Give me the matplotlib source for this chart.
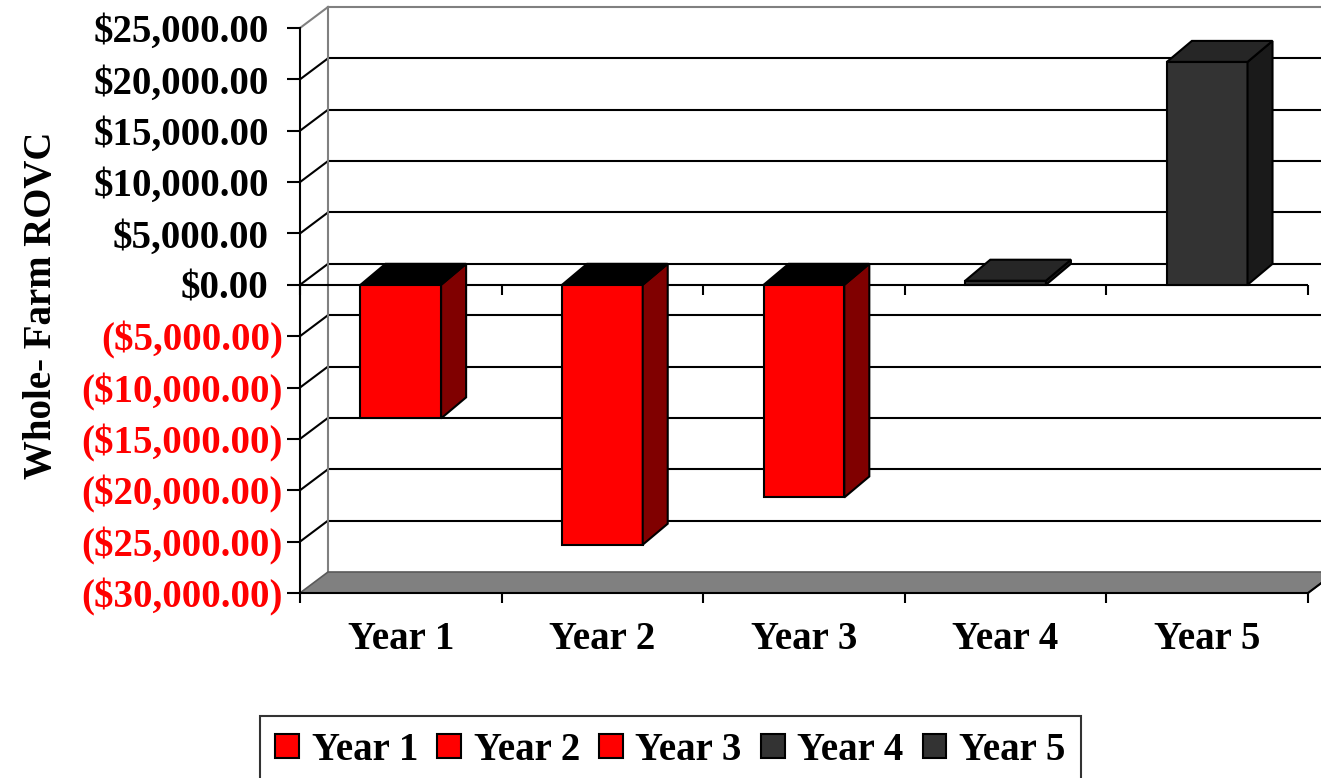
import numpy as np
import matplotlib
matplotlib.use("Agg")
import matplotlib.pyplot as plt
from matplotlib.patches import Polygon, Rectangle, Patch
from matplotlib.markers import TICKDOWN
from matplotlib.transforms import offset_copy

# ── Data ──────────────────────────────────────────────────────────────────────
years = ["Year 1", "Year 2", "Year 3", "Year 4", "Year 5"]
rovc = [-13000, -25300, -20700, 400, 21700]
front_colors = ["#ff0000", "#ff0000", "#ff0000", "#333333", "#333333"]
side_colors = ["#800000", "#800000", "#800000", "#1a1a1a", "#1a1a1a"]
top_colors = ["#000000", "#000000", "#000000", "#262626", "#262626"]
y_ticks = np.arange(-30000, 25001, 5000)

YMIN, YMAX = -30000, 25000
FONT = "Liberation Serif"

fig = plt.figure(figsize=(13.21, 7.78), dpi=100)
ax = fig.add_axes([300 / 1321, 185 / 778, 1008 / 1321, 565 / 778])
ax.set_xlim(0, len(years))
ax.set_ylim(YMIN, YMAX)
ax.patch.set_alpha(0)

# depth of the 3-D box (oblique offset) in data units
DX = 28 / 201.6
DY = 21 / 565 * (YMAX - YMIN)
BDX = 25 / 201.6
BAR_W = 0.4
N = len(years)

# back wall gridlines + side-wall diagonals
for t in y_ticks:
    col = "#808080" if t == YMAX else "black"
    if t != YMIN:
        ax.plot([DX, N + DX], [t + DY, t + DY], color=col, lw=1.5,
                clip_on=False, zorder=1)
        ax.plot([0, DX], [t, t + DY], color=col, lw=1.5, clip_on=False, zorder=1)
ax.plot([DX, DX], [YMIN + DY, YMAX + DY], color="#808080", lw=1.5,
        clip_on=False, zorder=1.5)

# floor
floor = Polygon([(0, YMIN), (N, YMIN), (N + DX, YMIN + DY), (DX, YMIN + DY)],
                closed=True, facecolor="#808080", edgecolor="#5a5a5a", lw=1.2,
                clip_on=False, zorder=2)
ax.add_patch(floor)
ax.plot([N, N + DX], [YMIN, YMIN + DY], color="black", lw=1.5,
        clip_on=False, zorder=2.2)

# category axis at zero
ax.axhline(0, color="black", lw=1.5, zorder=3)
ax.plot(range(N + 1), [0] * (N + 1), ls="none", marker=TICKDOWN, ms=7.2,
        mew=1.5, color="black", clip_on=False, zorder=3)

# bars
for i, v in enumerate(rovc):
    x0 = i + 0.5 - BAR_W / 2
    x1 = x0 + BAR_W
    top = max(v, 0)
    ax.add_patch(Rectangle((x0, 0), BAR_W, v, facecolor=front_colors[i],
                           edgecolor="black", lw=1.5, zorder=4, clip_on=False))
    ax.add_patch(Polygon([(x1, 0), (x1, v), (x1 + BDX, v + DY), (x1 + BDX, DY)],
                         closed=True, facecolor=side_colors[i], edgecolor="black",
                         lw=1.5, zorder=4, clip_on=False))
    ax.add_patch(Polygon([(x0, top), (x1, top), (x1 + BDX, top + DY), (x0 + BDX, top + DY)],
                         closed=True, facecolor=top_colors[i], edgecolor="black",
                         lw=1.5, zorder=4, clip_on=False))

# axes styling
for s in ["top", "right"]:
    ax.spines[s].set_visible(False)
for s in ["left", "bottom"]:
    ax.spines[s].set_linewidth(1.5)
    ax.spines[s].set_zorder(5)

def money(v):
    return f"${v:,.2f}" if v >= 0 else f"(${-v:,.2f})"

ax.set_yticks(y_ticks)
ax.set_yticklabels([money(v) for v in y_ticks])
ax.tick_params(axis="y", length=9.4, width=1.5, pad=3)

ax.set_xticks(range(N + 1))
ax.set_xticklabels([])
ax.set_xticks(np.arange(N) + 0.5, minor=True)
ax.set_xticklabels(years, minor=True, fontfamily=FONT, fontweight="bold", fontsize=28)
ax.tick_params(axis="x", which="major", length=7.2, width=1.5)
ax.tick_params(axis="x", which="minor", length=0, pad=20)

# accounting-style labels: positives leave room for the closing parenthesis
for lab, v in zip(ax.get_yticklabels(), y_ticks):
    lab.set_color("red" if v < 0 else "black")
    lab.set_fontfamily(FONT)
    lab.set_fontweight("bold")
    lab.set_fontsize(28)
    if v >= 0:
        lab.set_transform(offset_copy(lab.get_transform(), fig, x=-14, y=0, units="dots"))

ax.set_ylabel("Whole- Farm ROVC", fontfamily=FONT, fontweight="bold", fontsize=28)
ax.yaxis.set_label_coords(-0.238, 0.51)

handles = [Patch(facecolor=c, edgecolor="black", lw=1.5, label=y)
           for c, y in zip(front_colors, years)]
leg = fig.legend(handles=handles, ncol=5, loc="upper center",
                 bbox_to_anchor=(670.5 / 1321, 1 - 716 / 778),
                 borderaxespad=0, fancybox=False, edgecolor="black",
                 handlelength=0.6, handleheight=0.6, handletextpad=0.33,
                 columnspacing=0.5, borderpad=0.4,
                 prop={"family": FONT, "weight": "bold", "size": 28})
leg.get_frame().set_linewidth(1.5)

fig.savefig("out.png", dpi=100)
